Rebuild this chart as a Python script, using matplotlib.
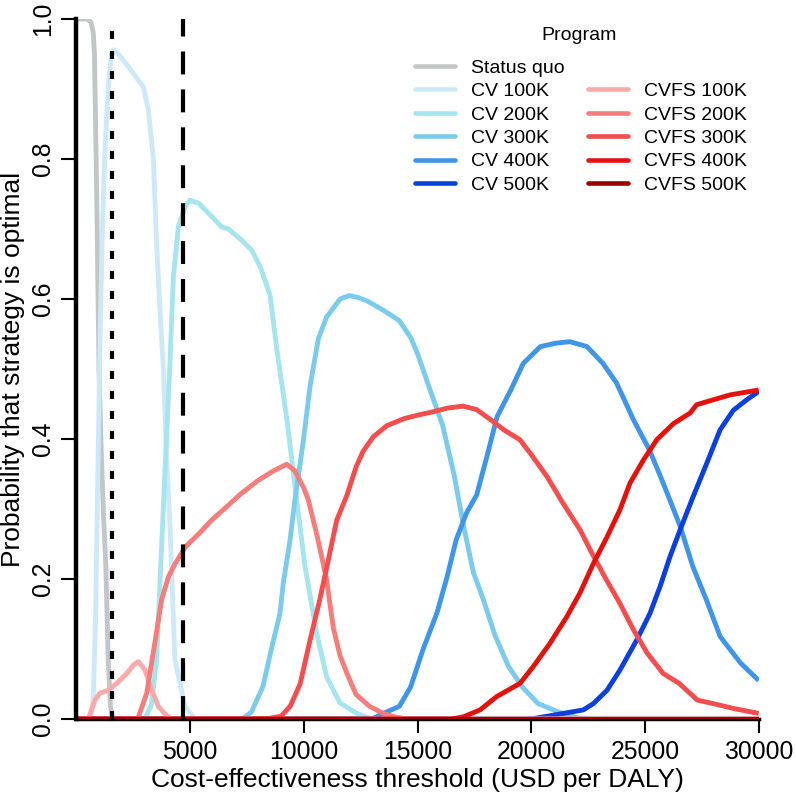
import matplotlib
matplotlib.use("Agg")
import matplotlib.pyplot as plt
from matplotlib.lines import Line2D

plt.rcParams['font.family'] = ['Liberation Sans', 'DejaVu Sans']

# ---------------- data (threshold in USD per DALY, probability optimal) ----------------
sq_x = [0, 500, 650, 750, 800, 850, 900, 1000, 1100, 1200, 1300, 1400, 1500, 1600, 30000]
sq_y = [1.0, 1.0, 0.995, 0.98, 0.95, 0.85, 0.75, 0.5, 0.38, 0.29, 0.22, 0.09, 0.02, 0.0, 0.0]

cv100_x = [0, 650, 750, 850, 950, 1050, 1150, 1250, 1350, 1450, 1550, 1650, 1850, 2290, 2510,
           2950, 3170, 3390, 3530, 3680, 3830, 3950, 4120, 4340, 4780, 5220, 30000]
cv100_y = [0, 0, 0.03, 0.15, 0.35, 0.55, 0.7, 0.8, 0.87, 0.92, 0.95, 0.956, 0.95, 0.932, 0.922,
           0.903, 0.87, 0.80, 0.68, 0.584, 0.5, 0.39, 0.274, 0.084, 0.018, 0.0, 0.0]

cv200_x = [0, 3000, 3300, 3530, 3790, 3950, 4120, 4270, 4490, 4780, 5000, 5370, 5950, 6390,
           6690, 7270, 7710, 8100, 8520, 8810, 9250, 9690, 10055, 10570, 11010, 11590, 12330,
           13000, 30000]
cv200_y = [0, 0, 0.02, 0.084, 0.274, 0.39, 0.51, 0.632, 0.703, 0.732, 0.741, 0.737, 0.718, 0.703,
           0.70, 0.684, 0.67, 0.645, 0.605, 0.53, 0.43, 0.313, 0.218, 0.122, 0.06, 0.023, 0.008,
           0.0, 0.0]

cv300_x = [0, 7300, 7700, 8200, 8650, 8950, 9100, 9400, 9600, 9980, 10280, 10640, 11000, 11600,
           12000, 12400, 12800, 13500, 14200, 14700, 15000, 15500, 16100, 16600, 17000, 17450,
           17900, 18400, 19000, 19600, 20300, 21200, 22000, 22500, 30000]
cv300_y = [0, 0, 0.01, 0.046, 0.11, 0.15, 0.194, 0.256, 0.31, 0.397, 0.476, 0.543, 0.574, 0.60,
           0.605, 0.602, 0.597, 0.584, 0.569, 0.545, 0.522, 0.475, 0.42, 0.35, 0.28, 0.21,
           0.17, 0.12, 0.075, 0.046, 0.022, 0.01, 0.002, 0.0, 0.0]

cv400_x = [0, 13000, 13500, 14200, 14700, 15250, 15850, 16300, 16700, 17150, 17600, 18050, 18500,
           19100, 19650, 20400, 21100, 21700, 22450, 23150, 23750, 24500, 25200, 25800, 26550,
           27100, 27700, 28300, 29200, 30000]
cv400_y = [0, 0, 0.008, 0.018, 0.046, 0.1, 0.151, 0.203, 0.256, 0.294, 0.32, 0.375, 0.432,
           0.47, 0.508, 0.532, 0.537, 0.539, 0.532, 0.508, 0.48, 0.427, 0.384, 0.337, 0.275,
           0.218, 0.17, 0.118, 0.08, 0.055]

cv500_x = [0, 20000, 20530, 21410, 22290, 22730, 23330, 23900, 24640, 25220, 25660, 26100, 26540,
           27120, 27710, 28300, 28880, 29470, 30000]
cv500_y = [0, 0, 0.003, 0.008, 0.013, 0.022, 0.041, 0.07, 0.113, 0.151, 0.189, 0.232, 0.27,
           0.318, 0.365, 0.413, 0.441, 0.456, 0.468]

cvfs100_x = [0, 530, 820, 1045, 1410, 1780, 2220, 2510, 2730, 3020, 3320, 3610, 3970, 4200, 30000]
cvfs100_y = [0, 0, 0.027, 0.037, 0.041, 0.051, 0.065, 0.077, 0.082, 0.07, 0.041, 0.018, 0.005, 0.0, 0.0]

cvfs200_x = [0, 2700, 3100, 3450, 3750, 4050, 4350, 4800, 5400, 5950, 6500, 7250, 8000, 8700,
             9250, 9600, 10000, 10200, 10600, 11000, 11300, 11600, 11900, 12300, 12900, 13500,
             14000, 14500, 30000]
cvfs200_y = [0, 0, 0.037, 0.108, 0.17, 0.203, 0.222, 0.246, 0.265, 0.284, 0.30, 0.322, 0.341,
             0.355, 0.364, 0.355, 0.33, 0.313, 0.26, 0.20, 0.13, 0.09, 0.065, 0.035, 0.018,
             0.008, 0.003, 0.0, 0.0]

cvfs300_x = [0, 7800, 8500, 9000, 9400, 9840, 10280, 10700, 11000, 11450, 11900, 12300, 12600,
             13050, 13650, 14400, 15000, 15700, 16300, 17000, 17600, 18200, 18800, 19500, 19950,
             20700, 21400, 22150, 22600, 23300, 23900, 24500, 25100, 25800, 26500, 27300, 28000,
             28900, 30000]
cvfs300_y = [0, 0, 0.001, 0.004, 0.018, 0.05, 0.113, 0.17, 0.215, 0.284, 0.32, 0.36, 0.382,
             0.403, 0.419, 0.429, 0.434, 0.439, 0.444, 0.447, 0.442, 0.428, 0.413, 0.399, 0.38,
             0.346, 0.308, 0.27, 0.241, 0.199, 0.165, 0.127, 0.094, 0.065, 0.051, 0.027, 0.022,
             0.015, 0.008]

cvfs400_x = [0, 16500, 17010, 17750, 18480, 19510, 20090, 20820, 21560, 22140, 22730, 23330,
             23900, 24340, 24930, 25520, 26250, 26980, 27270, 28000, 28740, 30000]
cvfs400_y = [0, 0, 0.003, 0.013, 0.032, 0.051, 0.075, 0.108, 0.146, 0.18, 0.222, 0.26, 0.299,
             0.337, 0.37, 0.399, 0.422, 0.437, 0.449, 0.456, 0.463, 0.47]

cvfs500_x = [0, 30000]
cvfs500_y = [0, 0]

labels = ["Status quo", "CV 100K", "CV 200K", "CV 300K", "CV 400K", "CV 500K",
          "CVFS 100K", "CVFS 200K", "CVFS 300K", "CVFS 400K", "CVFS 500K"]
colors = ["#c2c6c6", "#cde9f8", "#a6e4ee", "#7bcbec", "#3f95e8", "#0c3fe0",
          "#f8aaa8", "#f57d7b", "#f44d4d", "#e4120d", "#990000"]
series = [(sq_x, sq_y), (cv100_x, cv100_y), (cv200_x, cv200_y), (cv300_x, cv300_y),
          (cv400_x, cv400_y), (cv500_x, cv500_y), (cvfs100_x, cvfs100_y),
          (cvfs200_x, cvfs200_y), (cvfs300_x, cvfs300_y), (cvfs400_x, cvfs400_y),
          (cvfs500_x, cvfs500_y)]

gdp_1x = 1560   # dotted reference line
gdp_3x = 4710   # dashed reference line

x_ticks = [5000, 10000, 15000, 20000, 25000, 30000]
y_ticks = [0.0, 0.2, 0.4, 0.6, 0.8, 1.0]

# ---------------- figure ----------------
W, H = 796, 799
fig = plt.figure(figsize=(W / 100, H / 100), dpi=100)
ax_left, ax_right, ax_top, ax_bot = 76.25, 758.75, 19, 719
ax = fig.add_axes([ax_left / W, 1 - ax_bot / H, (ax_right - ax_left) / W, (ax_bot - ax_top) / H])

lw = 3.5
for (xs, ys), lab, col in zip(series, labels, colors):
    ax.plot(xs, ys, color=col, lw=lw, solid_capstyle='butt', solid_joinstyle='round',
            zorder=3, label=lab)

ax.axvline(gdp_1x, color='black', lw=3.0, dashes=(1.9, 2.9), zorder=5)
ax.axvline(gdp_3x, color='black', lw=3.0, dashes=(5.5, 3.6), zorder=5)

ax.set_xlim(0, 30000)
ax.set_ylim(0, 1)
ax.set_xticks(x_ticks)
ax.set_xticklabels([str(t) for t in x_ticks])
ax.set_yticks(y_ticks)
ax.set_yticklabels([f"{t:.1f}" for t in y_ticks])

for s in ['top', 'right']:
    ax.spines[s].set_visible(False)
ax.spines['left'].set_linewidth(3.2)
ax.spines['bottom'].set_linewidth(2.5)
ax.spines['left'].set_zorder(4)
ax.spines['bottom'].set_zorder(2)

tick_fs = 17.8
ax.tick_params(axis='x', length=10, width=1.5, labelsize=tick_fs, pad=5.3)
ax.tick_params(axis='y', length=11, width=1.5, labelsize=tick_fs, pad=4)
for t in ax.get_yticklabels():
    t.set_rotation(90)
    t.set_va('center')
    t.set_ha('right')

ax.set_xlabel("Cost-effectiveness threshold (USD per DALY)", fontsize=19)
ax.set_ylabel("Probability that strategy is optimal", fontsize=19)
ax.xaxis.set_label_coords(0.5, (ax_bot - 768) / (ax_bot - ax_top))
ax.yaxis.set_label_coords((25 - ax_left) / (ax_right - ax_left), 0.5)

# legend: two columns, blank slot at top of second column, title placed separately
leg_fs = 14
fig.text(579 / W, 1 - 36 / H, "Program", fontsize=leg_fs, ha='center', va='center')
hs = [Line2D([], [], color=c, lw=3.3, solid_capstyle='round') for c in colors]
blank = Line2D([], [], color='none', lw=0)
handles = hs[:6] + [blank] + hs[6:]
labs = labels[:6] + [" "] + labels[6:]
leg = ax.legend(handles, labs, ncol=2, frameon=False,
                loc='upper left', bbox_to_anchor=(415 / W, 1 - 59 / H),
                bbox_transform=fig.transFigure, borderpad=0, borderaxespad=0,
                fontsize=leg_fs, handlelength=2.06,
                handletextpad=0.82, columnspacing=1.2, labelspacing=0.3)

fig.savefig("out.png", dpi=100)
